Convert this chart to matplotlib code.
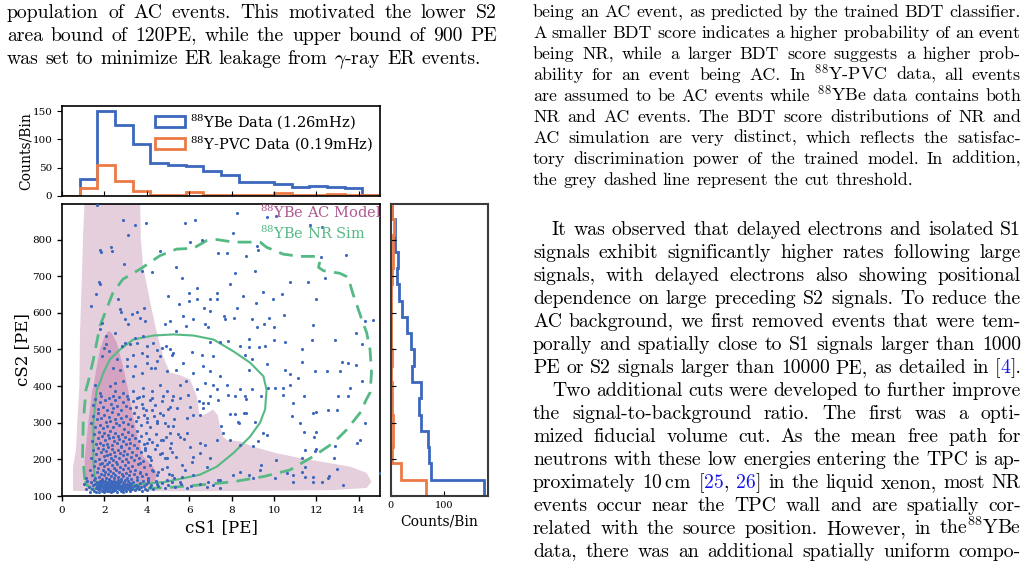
import re
import numpy as np
import matplotlib
matplotlib.use('Agg')
import matplotlib.pyplot as plt
from matplotlib.patches import Patch

W, H = 1028, 569

# ---------------- data ----------------
s1_edges = np.linspace(0, 15, 19)
s2_edges = np.linspace(100, 900, 19)
ybe_s1_counts = [0, 30, 151, 126, 92, 59, 54, 52, 44, 36, 25, 25, 20, 15, 18, 15, 13, 2]
pvc_s1_counts = [0, 13, 55, 27, 8, 1, 1, 6, 2, 1, 1, 2, 5, 2, 2, 3, 2, 2]
ybe_s2_counts = [174, 75, 72, 70, 56, 53, 56, 39, 43, 38, 30, 22, 15, 12, 13, 8, 8, 3]
pvc_s2_counts = [65, 19, 2, 5, 5, 2, 3, 1, 3, 1, 1, 1, 0, 2, 5, 5, 6, 2]

legend_labels = [r'$^{88}$YBe Data (1.26mHz)', r'$^{88}$Y-PVC Data (0.19mHz)']
model_labels = [r'$^{88}$YBe AC Model', r'$^{88}$YBe NR Sim']
main_xticks = [0, 2, 4, 6, 8, 10, 12, 14]
main_yticks = [100, 200, 300, 400, 500, 600, 700, 800]
top_yticks = [0, 50, 100, 150]
right_xticks = [0, 100]

# AC model regions (cS1, cS2)
ac_outer = [(1.08, 920), (1.0, 820), (0.93, 683), (0.85, 547), (0.82, 400), (0.72, 300),
            (0.66, 226), (0.52, 180), (0.52, 114), (3.0, 113), (6.0, 113), (9.0, 114),
            (12.8, 116), (14.37, 122), (14.6, 139), (14.37, 163), (13.6, 180), (12.2, 194),
            (11.2, 204), (10.1, 217), (9.0, 235), (8.4, 249), (7.77, 253), (7.6, 262),
            (7.45, 290), (7.35, 320), (7.13, 336), (6.85, 326), (6.5, 317), (6.36, 372),
            (6.04, 418), (5.57, 430), (5.09, 437), (4.77, 481), (4.47, 547), (4.23, 610),
            (3.95, 690), (3.82, 727), (3.72, 800), (3.68, 920)]
ac_inner = [(2.18, 550), (2.33, 546), (2.58, 519), (2.88, 454), (3.12, 390), (3.35, 317),
            (3.6, 253), (3.83, 208), (4.3, 180), (4.47, 163), (4.39, 139), (4.0, 125),
            (3.35, 116), (2.0, 116), (1.3, 118), (1.1, 135), (1.04, 163), (1.08, 208),
            (1.24, 300), (1.43, 390), (1.48, 399), (1.64, 454), (1.79, 500), (2.0, 535)]
# NR simulation contours
nr_outer = [(1.08, 144), (0.97, 208), (1.0, 300), (1.13, 390), (1.23, 410), (1.48, 473),
            (1.79, 564), (2.1, 610), (2.41, 656), (2.88, 692), (3.68, 719), (4.62, 756),
            (5.41, 774), (6.19, 776), (6.82, 797), (7.3, 800), (8.08, 793), (9.34, 793),
            (9.65, 779), (10.44, 760), (11.23, 754), (12.0, 754), (12.17, 742), (12.1, 724),
            (12.33, 715), (13.1, 708), (13.5, 697), (13.7, 656), (14.14, 582), (14.37, 546),
            (14.53, 500), (14.6, 437), (14.53, 382), (14.37, 365), (14.06, 327), (13.43, 281),
            (12.8, 245), (11.85, 208), (10.75, 171), (9.5, 153), (8.08, 139), (6.5, 130),
            (4.94, 123), (3.35, 119), (1.79, 116), (1.4, 120), (1.16, 130), (1.08, 144)]
nr_inner = [(1.56, 144), (1.48, 190), (1.48, 300), (1.64, 390), (1.79, 410), (1.95, 436),
            (2.26, 473), (2.74, 500), (3.36, 527), (4.31, 538), (5.25, 541), (6.2, 538),
            (7.15, 527), (8.08, 495), (8.87, 464), (9.5, 427), (9.65, 390), (9.58, 336),
            (9.34, 300), (8.87, 262), (8.08, 217), (7.3, 180), (6.5, 158), (4.94, 139),
            (3.35, 130), (2.1, 127), (1.7, 130), (1.56, 144)]

# 88YBe data events (cS1, cS2)
pts_upper = [[1.64,893],[2.86,854],[3.44,840],[3.94,845],[3.1,812],[2.3,779],[2.38,770],[1.8,772],[1.82,766],
             [2.92,733],[1.73,683],[1.8,678],[1.6,651],[1.35,619],[3.76,715],[4.26,712],[4.6,768],[5.4,726],
             [5.64,694],[5.0,646],[5.5,623],[5.97,655],[6.35,669],[5.97,633],[6.35,637],[6.98,637],[7.3,653],
             [7.33,637],[7.0,605],[6.7,614],[5.8,845],[6.27,852],[6.04,792],[6.6,799],[7.37,763],[7.77,763],
             [8.05,818],[8.24,873],[8.7,754],[9.1,715],[9.2,781],[9.26,771],[8.15,710],[7.92,680],[8.55,646],
             [9.5,657],[9.97,637],[10.4,651],[10.75,683],[11.6,685],[12.0,637],[12.4,695],[13.4,758],[12.2,751],
             [11.7,840],[12.25,835],[10.1,864],[9.65,861]]
pts_mid = [[5.1,578],[4.85,569],[5.4,550],[5.72,591],[5.87,564],[6.2,582],[6.75,570],[6.9,561],[7.64,590],
           [7.7,584],[8.1,587],[8.24,612],[8.95,584],[9.52,569],[9.78,587],[10.47,593],[10.0,561],[9.18,562],
           [9.15,628],[6.98,520],[7.45,521],[7.82,523],[8.4,509],[8.8,507],[9.3,507],[9.57,509],[8.8,529],
           [10.0,527],[10.5,520],[11.3,502],[11.85,566],[11.77,526],[12.88,527],[13.87,546],[14.3,578],
           [14.65,581],[14.13,514],[13.87,457],[13.5,464],[13.2,466],[13.1,441],[14.13,413],[13.6,395],
           [12.5,441],[11.93,441],[11.3,466],[11.15,423],[10.75,432],[10.75,404],[10.44,395],[10.05,395],
           [10.5,445],[9.65,459],[8.95,473],[8.63,486],[8.8,445],[7.14,482],[6.59,486],[6.67,454],[6.12,493],
           [5.72,464],[5.25,491],[5.1,500],[5.17,486],[4.9,509],[4.7,505],[4.62,482],[4.39,450],[4.94,441],
           [5.4,445],[6.2,436],[6.98,441],[7.45,427],[7.77,404],[7.14,404],[6.75,409],[5.87,413],[5.56,404],
           [6.35,391],[7.3,391],[8.4,391],[8.95,391],[9.4,372],[9.73,395]]
pts_left = [[1.87,573],[1.8,555],[2.07,537],[2.07,514],[2.0,505],[2.2,496],[1.87,482],[2.5,546],[2.66,637],
            [2.74,610],[2.77,601],[2.97,582],[3.13,569],[3.28,596],[3.52,601],[3.68,587],[3.87,614],[3.9,578],
            [3.44,532],[3.52,518],[3.2,514],[2.97,517],[2.81,509],[3.83,537],[4.0,509],[4.3,518],[4.47,498],
            [3.76,491],[3.36,484],[3.05,473],[2.58,473],[2.42,450],[2.74,445],[3.05,455],[3.44,455],[4.0,464],
            [4.0,482],[4.22,450],[4.47,468],[3.76,436],[3.36,427],[2.9,413],[2.5,409],[2.5,386],[2.26,400],
            [1.8,381],[1.56,404],[2.42,372],[2.9,381],[3.36,386],[3.84,395],[4.23,386],[4.6,404],[4.94,386],
            [5.25,372],[3.05,372]]
pts_low_right = [[6.48,358],[6.64,353],[6.9,355],[6.67,340],[6.5,322],[6.98,374],[7.37,363],[7.85,376],
                 [8.16,372],[8.63,374],[8.7,364],[7.92,324],[8.15,324],[8.6,326],[8.7,326],[8.3,303],[8.36,300],
                 [7.5,290],[7.6,271],[7.3,253],[7.92,253],[8.4,239],[9.0,237],[9.1,303],[9.5,271],[9.65,267],
                 [9.26,249],[9.4,185],[8.4,166],[9.0,148],[8.8,157],[8.08,157],[7.45,143],[7.14,130],[7.37,143],
                 [6.9,139],[6.5,134],[6.83,125],[7.45,123],[6.2,157],[5.64,153],[5.88,121],[10.44,376],[10.9,353],
                 [11.4,372],[10.83,317],[11.23,299],[11.43,276],[11.85,326],[11.98,329],[12.0,276],[11.9,262],
                 [12.56,335],[12.95,335],[13.0,374],[13.5,374],[14.3,300],[14.05,253],[13.9,244],[12.9,237],
                 [12.85,203],[12.95,175],[12.0,228],[11.93,224],[11.46,226],[11.3,203],[11.46,180],[11.3,166],
                 [11.46,153],[10.9,157],[10.9,139],[11.85,153],[11.85,139],[12.25,139],[12.56,148],[12.6,154],
                 [13.27,130],[15.0,162],[10.05,148],[10.6,164],[10.1,198],[9.34,171]]
pts_low_mid = [[3.52,367],[3.84,372],[4.23,367],[4.78,372],[5.17,363],[5.57,367],[5.96,376],[6.04,344],
               [5.41,340],[5.1,344],[4.62,326],[4.23,335],[3.84,340],[4.0,312],[4.47,299],[4.86,299],[5.25,290],
               [5.88,312],[6.2,322],[5.88,271],[5.57,262],[5.1,271],[4.78,253],[4.47,239],[4.0,244],[3.92,230],
               [4.15,207],[4.7,217],[5.17,221],[5.4,207],[5.64,185],[6.12,194],[6.2,207],[6.5,217],[6.74,239],
               [6.5,244],[6.04,235],[6.98,203],[6.83,180],[4.94,180],[4.54,166],[5.17,157],[5.57,139],[4.94,143],
               [4.47,134],[4.07,143],[3.68,162],[3.68,189],[4.23,171],[4.94,203]]
pts_dense_a = [[1.05,132],[1.12,118],[1.2,141],[1.28,125],[1.33,112],[1.38,137],[1.42,120],[1.47,129],[1.5,143],
               [1.53,115],[1.57,133],[1.6,122],[1.62,110],[1.64,139],[1.66,127],[1.69,118],[1.71,135],[1.73,124],
               [1.75,112],[1.77,141],[1.79,129],[1.81,119],[1.83,136],[1.85,126],[1.87,114],[1.89,144],[1.9,131],
               [1.92,121],[1.94,138],[1.96,116],[1.97,128],[1.99,110],[2.01,134],[2.03,123],[2.05,142],[2.06,117],
               [2.08,130],[2.1,125],[2.12,113],[2.13,139],[2.15,121],[2.17,133],[2.19,127],[2.2,115],[2.22,144],
               [2.24,119],[2.25,136],[2.27,124],[2.29,111],[2.3,131],[2.32,140],[2.34,118],[2.35,127],[2.37,134],
               [2.39,122],[2.4,113],[2.42,137],[2.44,128],[2.45,119],[2.47,142],[2.48,125],[2.5,132],[2.52,116],
               [2.54,139],[2.56,121],[2.58,129],[2.6,112],[2.62,135],[2.64,124],[2.66,143],[2.68,118],[2.7,131],
               [2.72,126],[2.74,137],[2.76,114],[2.78,122],[2.8,140],[2.82,128],[2.84,117],[2.86,133],[2.88,124],
               [2.9,111],[2.92,138],[2.94,120],[2.96,130],[2.98,144],[3.0,125],[3.02,115],[3.05,134],[3.07,121],
               [3.1,129],[3.12,141],[3.15,118],[3.17,127],[3.2,136],[3.22,113],[3.25,124],[3.27,132],[3.3,119],
               [3.35,139],[3.4,126],[3.44,116],[3.48,131],[3.52,122],[3.56,143],[3.6,128],[3.65,118],[3.7,135],
               [3.74,124],[3.78,113],[3.82,140],[3.87,127],[3.92,120],[3.97,133],[4.02,116],[4.08,138],[4.13,125],
               [4.2,131],[4.3,118],[4.42,141],[4.55,127],[4.7,135],[4.85,121],[5.0,130],[5.2,138],[5.35,125],
               [5.6,133],[6.1,128]]
pts_dense_b = [[1.15,150],[1.3,170],[1.42,158],[1.5,183],[1.58,148],[1.65,165],[1.72,176],[1.76,152],[1.8,188],
               [1.84,161],[1.88,147],[1.92,172],[1.96,156],[2.0,181],[2.03,166],[2.07,150],[2.11,186],[2.15,160],
               [2.19,174],[2.23,146],[2.27,168],[2.31,155],[2.35,184],[2.39,163],[2.43,149],[2.47,177],[2.51,158],
               [2.55,170],[2.6,187],[2.64,152],[2.68,165],[2.72,179],[2.77,147],[2.81,161],[2.86,173],[2.9,155],
               [2.95,185],[3.0,164],[3.05,150],[3.1,176],[3.15,158],[3.2,168],[3.26,146],[3.32,182],[3.38,160],
               [3.45,172],[3.52,151],[3.6,187],[3.68,165],[3.76,154],[3.85,178],[3.95,161],[4.05,149],[4.15,184],
               [4.3,167],[4.5,156],[4.72,173],[5.05,160],[5.3,148],[5.8,171]]
pts_dense_c = [[1.35,205],[1.45,225],[1.55,195],[1.62,214],[1.7,232],[1.76,200],[1.82,219],[1.87,191],[1.92,228],
               [1.97,208],[2.02,197],[2.07,222],[2.12,212],[2.17,233],[2.22,194],[2.27,216],[2.32,205],[2.37,229],
               [2.42,199],[2.47,220],[2.52,210],[2.57,192],[2.62,226],[2.67,203],[2.72,217],[2.78,234],[2.83,196],
               [2.88,211],[2.94,224],[3.0,201],[3.06,215],[3.12,193],[3.18,230],[3.25,207],[3.32,221],[3.4,198],
               [3.48,213],[3.56,231],[3.65,204],[3.74,219],[3.83,195],[3.93,226],[4.05,210],[4.2,199],[4.38,228],
               [4.6,214],[4.85,203],[5.1,230]]
pts_dense_d = [[1.4,250],[1.52,268],[1.6,241],[1.68,259],[1.75,276],[1.81,246],[1.87,264],[1.93,238],[1.98,272],
               [2.04,253],[2.1,243],[2.16,266],[2.22,257],[2.28,278],[2.34,240],[2.4,261],[2.46,249],[2.52,272],
               [2.58,245],[2.64,263],[2.7,255],[2.76,237],[2.82,270],[2.88,250],[2.95,262],[3.02,242],[3.09,275],
               [3.16,256],[3.23,246],[3.3,267],[3.38,239],[3.46,259],[3.55,277],[3.64,250],[3.74,265],[3.85,243],
               [3.96,271],[4.1,256],[4.25,247],[4.45,268],[4.65,252],[4.9,262],[5.15,244],[5.45,270],[5.75,255]]
pts_dense_e = [[1.38,300],[1.48,318],[1.56,289],[1.64,309],[1.71,327],[1.78,295],[1.85,314],[1.92,285],[1.99,322],
               [2.06,303],[2.13,292],[2.2,316],[2.27,306],[2.34,328],[2.41,288],[2.48,311],[2.55,298],[2.62,324],
               [2.7,293],[2.78,313],[2.86,302],[2.94,283],[3.02,319],[3.1,297],[3.19,310],[3.28,290],[3.38,326],
               [3.48,304],[3.6,315],[3.72,294],[3.85,321],[4.0,301],[4.15,287],[4.32,317],[4.5,305],[4.75,320],
               [5.0,290],[5.3,309]]
pts_dense_f = [[1.45,348],[1.58,365],[1.68,338],[1.77,356],[1.86,372],[1.95,343],[2.04,361],[2.13,334],[2.22,368],
               [2.31,350],[2.4,340],[2.5,363],[2.6,345],[2.7,371],[2.8,336],[2.9,357],[3.0,347],[3.1,366],
               [3.22,339],[3.35,360],[3.48,344],[3.62,370],[3.78,352],[3.95,335],[4.15,362],[4.4,349],[4.7,358],
               [5.0,338]]

# ---------------- page text ----------------
left_lines = ["population of AC events. This motivated the lower S2",
              "area bound of 120PE, while the upper bound of 900 PE",
              r"was set to minimize ER leakage from $\gamma$-ray ER events."]
right_block1 = ["being an AC event, as predicted by the trained BDT classifier.",
                "A smaller BDT score indicates a higher probability of an event",
                "being NR, while a larger BDT score suggests a higher prob-",
                r"ability for an event being AC. In $^{88}$Y-PVC data, all events",
                r"are assumed to be AC events while $^{88}$YBe data contains both",
                "NR and AC events. The BDT score distributions of NR and",
                "AC simulation are very distinct, which reflects the satisfac-",
                "tory discrimination power of the trained model. In addition,",
                "the grey dashed line represent the cut threshold."]
right_block2 = ["It was observed that delayed electrons and isolated S1",
                "signals exhibit significantly higher rates following large",
                "signals, with delayed electrons also showing positional",
                "dependence on large preceding S2 signals. To reduce the",
                "AC background, we first removed events that were tem-",
                "porally and spatially close to S1 signals larger than 1000",
                "PE or S2 signals larger than 10000 PE, as detailed in [«4»].",
                "Two additional cuts were developed to further improve",
                "the signal-to-background ratio. The first was a opti-",
                "mized fiducial volume cut. As the mean free path for",
                "neutrons with these low energies entering the TPC is ap-",
                r"proximately 10$\,$cm [«25», «26»] in the liquid xenon, most NR",
                "events occur near the TPC wall and are spatially cor-",
                r"related with the source position. However, in the$^{88}$YBe",
                "data, there was an additional spatially uniform compo-"]

# ---------------- style ----------------
plt.rcParams['font.family'] = 'DejaVu Serif'
plt.rcParams['mathtext.fontset'] = 'dejavuserif'
BLUE = '#3b67bd'
ORANGE = '#ec7a45'
GREEN = '#55b984'
PINK_OUT = '#e5cfdc'
PINK_IN = '#d4a3c2'
AC_TXT = '#b05890'
CITE = '#1515f0'
FS_BODY = 14.2
FS_CAPTION = 12.9

fig = plt.figure(figsize=(W / 100, H / 100), dpi=100)


def rect(l, t, r, b):
    return [l / W, 1 - b / H, (r - l) / W, (b - t) / H]


ax = fig.add_axes(rect(62, 204, 380, 496))
ax_top = fig.add_axes(rect(62, 105.7, 380, 195.7))
ax_r = fig.add_axes(rect(390.7, 204, 488, 496))

# main panel
ox, oy = zip(*ac_outer)
ax.fill(ox, oy, color=PINK_OUT, lw=0, zorder=1)
ix, iy = zip(*ac_inner)
ax.fill(ix, iy, color=PINK_IN, lw=0, zorder=1.1)
gx, gy = zip(*nr_outer)
ax.plot(gx, gy, color=GREEN, lw=2.0, ls=(0, (5, 3)), zorder=2)
gx, gy = zip(*nr_inner)
ax.plot(gx, gy, color=GREEN, lw=1.5, zorder=2)
all_pts = np.array(pts_upper + pts_mid + pts_left + pts_low_right + pts_low_mid +
                   pts_dense_a + pts_dense_b + pts_dense_c + pts_dense_d + pts_dense_e + pts_dense_f)
ax.scatter(all_pts[:, 0], all_pts[:, 1], s=5, color=BLUE, linewidths=0, zorder=3)
ax.set_xlim(0, 15)
ax.set_ylim(100, 897)
ax.set_xticks(main_xticks)
ax.set_yticks(main_yticks)
ax.tick_params(labelsize=7.5, direction='out', length=3.5, width=1)
ax.set_xlabel('cS1 [PE]', fontsize=12, labelpad=3)
ax.set_ylabel('cS2 [PE]', fontsize=12, labelpad=1)
for sp in ax.spines.values():
    sp.set_linewidth(1.2)
ax.text(9.34, 873, model_labels[0], color=AC_TXT, fontsize=10.5, ha='left', va='center', zorder=4)
ax.text(9.34, 818, model_labels[1], color=GREEN, fontsize=10.5, ha='left', va='center', zorder=4)

# top histogram
ax_top.stairs(ybe_s1_counts, s1_edges, color=BLUE, lw=2)
ax_top.stairs(pvc_s1_counts, s1_edges, color=ORANGE, lw=2)
ax_top.set_xlim(0, 15)
ax_top.set_ylim(0, 160)
ax_top.set_xticks(main_xticks)
ax_top.set_xticklabels([])
ax_top.set_yticks(top_yticks)
ax_top.tick_params(axis='x', direction='in', length=3.5)
ax_top.tick_params(axis='y', direction='out', length=3.5, labelsize=7.5)
ax_top.set_ylabel('Counts/Bin', fontsize=10, labelpad=0)
for sp in ax_top.spines.values():
    sp.set_linewidth(1.2)
handles = [Patch(facecolor='none', edgecolor=BLUE, lw=2, label=legend_labels[0]),
           Patch(facecolor='none', edgecolor=ORANGE, lw=2, label=legend_labels[1])]
ax_top.legend(handles=handles, loc='upper right', bbox_to_anchor=(0.978, 0.93), frameon=False,
              fontsize=10.5, handlelength=2.1, handleheight=0.75, handletextpad=0.3,
              borderaxespad=0, borderpad=0, labelspacing=0.18)

# right histogram
ax_r.stairs(ybe_s2_counts, s2_edges, color=BLUE, lw=2, orientation='horizontal')
ax_r.stairs(pvc_s2_counts, s2_edges, color=ORANGE, lw=2, orientation='horizontal')
ax_r.set_ylim(100, 897)
ax_r.set_xlim(0, 181.5)
ax_r.set_yticks(main_yticks)
ax_r.set_yticklabels([])
ax_r.set_xticks(right_xticks)
ax_r.tick_params(direction='in', length=3.5, labelsize=7)
ax_r.set_xlabel('Counts/Bin', fontsize=10, labelpad=3)
for sp in ax_r.spines.values():
    sp.set_linewidth(1.5)
    sp.set_color('#3a3a3a')

# page text with justification
renderer = fig.canvas.get_renderer()


def build_words(line, fs):
    items = []
    for w in [w for w in line.split(' ') if w]:
        texts, width = [], 0.0
        for s in re.split(r'(«[^»]*»)', w):
            if not s:
                continue
            c = 'black'
            if s.startswith('«'):
                s = s[1:-1]
                c = CITE
            t = fig.text(0, 0, s, fontsize=fs, family='cmr10', math_fontfamily='cm',
                         color=c, ha='left', va='baseline')
            tw = t.get_window_extent(renderer).width
            texts.append((t, tw))
            width += tw
        items.append((texts, width))
    return items


def draw_line(line, x0, x1, yb, justify, fs0):
    fs = fs0
    items = build_words(line, fs)
    n = len(items)
    space = fs * 100 / 72 * 0.333
    total = sum(wd for _, wd in items)
    if justify and n > 1 and total + (n - 1) * 0.55 * space > (x1 - x0):
        for texts, _ in items:
            for t, _ in texts:
                t.remove()
        fs = fs0 * (x1 - x0 - (n - 1) * 0.55 * space) / total
        items = build_words(line, fs)
        total = sum(wd for _, wd in items)
    gap = (x1 - x0 - total) / (n - 1) if (justify and n > 1) else space
    x = x0
    for texts, wd in items:
        for t, tw in texts:
            t.set_position((x / W, 1 - yb / H))
            x += tw
        x += gap


for i, ln in enumerate(left_lines):
    draw_line(ln, 7, 497, 17.5 + 23.1 * i, i < len(left_lines) - 1, FS_BODY)
for i, ln in enumerate(right_block1):
    draw_line(ln, 533, 1021, 17.0 + 21.0 * i, i < len(right_block1) - 1, FS_CAPTION)
for i, ln in enumerate(right_block2):
    x0 = 552 if i in (0, 7) else 533
    draw_line(ln, x0, 1021, 235 + 23.0 * i, True, FS_BODY)

fig.savefig('out.png', dpi=100)
